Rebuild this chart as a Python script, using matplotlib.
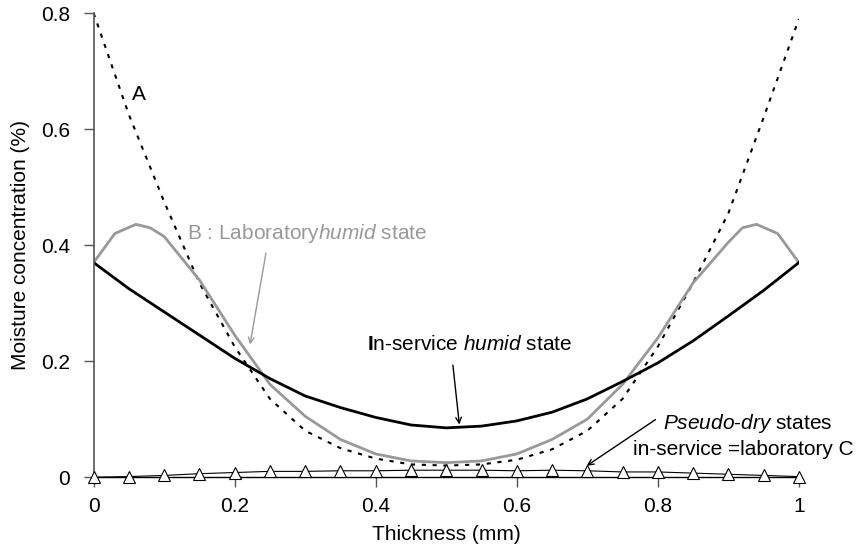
import numpy as np
import matplotlib as mpl
mpl.use('Agg')
import matplotlib.pyplot as plt

plt.rcParams['font.family'] = ['Liberation Sans', 'DejaVu Sans']
plt.rcParams['mathtext.fontset'] = 'custom'
plt.rcParams['mathtext.rm'] = 'Liberation Sans'
plt.rcParams['mathtext.it'] = 'Liberation Sans:italic'
plt.rcParams['mathtext.bf'] = 'Liberation Sans:bold'

# thickness positions (mm)
x = [0, 0.05, 0.1, 0.15, 0.2, 0.25, 0.3, 0.35, 0.4, 0.45, 0.5,
     0.55, 0.6, 0.65, 0.7, 0.75, 0.8, 0.85, 0.9, 0.95, 1.0]

# A : dotted profile
curveA = [0.80, 0.625, 0.475, 0.335, 0.225, 0.135, 0.08, 0.05, 0.032, 0.022, 0.02,
          0.022, 0.03, 0.048, 0.08, 0.135, 0.225, 0.335, 0.455, 0.62, 0.79]

# B : laboratory humid state (grey)
xB = [0, 0.03, 0.06, 0.08, 0.1, 0.15, 0.2, 0.25, 0.3, 0.35, 0.4, 0.45, 0.5,
      0.55, 0.6, 0.65, 0.7, 0.75, 0.8, 0.85, 0.9, 0.92, 0.94, 0.97, 1.0]
curveB = [0.37, 0.42, 0.436, 0.43, 0.415, 0.34, 0.245, 0.16, 0.105, 0.065, 0.04, 0.028, 0.025,
          0.028, 0.04, 0.065, 0.10, 0.16, 0.24, 0.335, 0.405, 0.43, 0.436, 0.42, 0.37]

# in-service humid state (black)
inservice = [0.37, 0.325, 0.285, 0.245, 0.205, 0.17, 0.14, 0.12, 0.103, 0.09, 0.085,
             0.088, 0.097, 0.112, 0.135, 0.165, 0.197, 0.235, 0.278, 0.322, 0.37]

# pseudo-dry states (triangles)
pseudo_dry = [0.0, 0.001, 0.003, 0.006, 0.008, 0.01, 0.01, 0.011, 0.011, 0.012, 0.012,
              0.012, 0.011, 0.012, 0.011, 0.009, 0.009, 0.007, 0.005, 0.003, 0.001]

fs = 15

fig = plt.figure(figsize=(8.59, 5.51), dpi=100)
ax = fig.add_axes([0.109, 0.134, 0.821, 0.842])

ax.plot(x, curveA, color='black', lw=1.5, linestyle=(0, (2, 3.2)))
ax.plot(xB, curveB, color='#999999', lw=2.0)
ax.plot(x, inservice, color='black', lw=2.0)
ax.plot(x, pseudo_dry, color='black', lw=0.8, marker='^', markersize=8,
        markerfacecolor='white', markeredgecolor='black', markeredgewidth=0.8,
        clip_on=False, zorder=5)

ax.set_xlim(0, 1)
ax.set_ylim(0, 0.8)
ax.set_xticks([0, 0.2, 0.4, 0.6, 0.8, 1])
ax.set_xticklabels(['0', '0.2', '0.4', '0.6', '0.8', '1'])
ax.set_yticks([0, 0.2, 0.4, 0.6, 0.8])
ax.set_yticklabels(['0', '0.2', '0.4', '0.6', '0.8'])

for s in ['top', 'right']:
    ax.spines[s].set_visible(False)
ax.spines['left'].set_color('#555555')
ax.spines['left'].set_linewidth(1.2)
ax.spines['bottom'].set_color('black')
ax.spines['bottom'].set_linewidth(1.0)
ax.tick_params(axis='both', direction='out', length=7, width=1, color='#555555',
               labelsize=fs)
ax.tick_params(axis='x', pad=7)
ax.tick_params(axis='y', pad=10)

ax.set_xlabel('Thickness (mm)', fontsize=fs, labelpad=7)
ax.set_ylabel('Moisture concentration (%)', fontsize=fs, labelpad=8)

ax.text(0.055, 0.66, 'A', fontsize=fs, va='center', ha='left')

ax.text(0.133, 0.421, r'B : Laboratory$\mathit{humid}$ state', fontsize=fs,
        color='#999999', va='center', ha='left')
ax.annotate('', xy=(0.221, 0.224), xytext=(0.245, 0.391),
            arrowprops=dict(arrowstyle='->', color='#999999', lw=1.0))

ax.text(0.387, 0.228, r'$\mathbf{I}$n-service $\mathit{humid}$ state', fontsize=fs,
        va='center', ha='left')
ax.annotate('', xy=(0.519, 0.086), xytext=(0.509, 0.198),
            arrowprops=dict(arrowstyle='->', color='black', lw=1.0))

ax.text(0.807, 0.093, r'$\mathit{Pseudo}$-$\mathit{dry}$ states', fontsize=fs,
        va='center', ha='left', clip_on=False)
ax.text(0.765, 0.047, 'in-service =laboratory C', fontsize=fs,
        va='center', ha='left', clip_on=False)
ax.annotate('', xy=(0.696, 0.017), xytext=(0.8, 0.102),
            arrowprops=dict(arrowstyle='->', color='black', lw=1.0))

fig.savefig('out.png', dpi=100)
